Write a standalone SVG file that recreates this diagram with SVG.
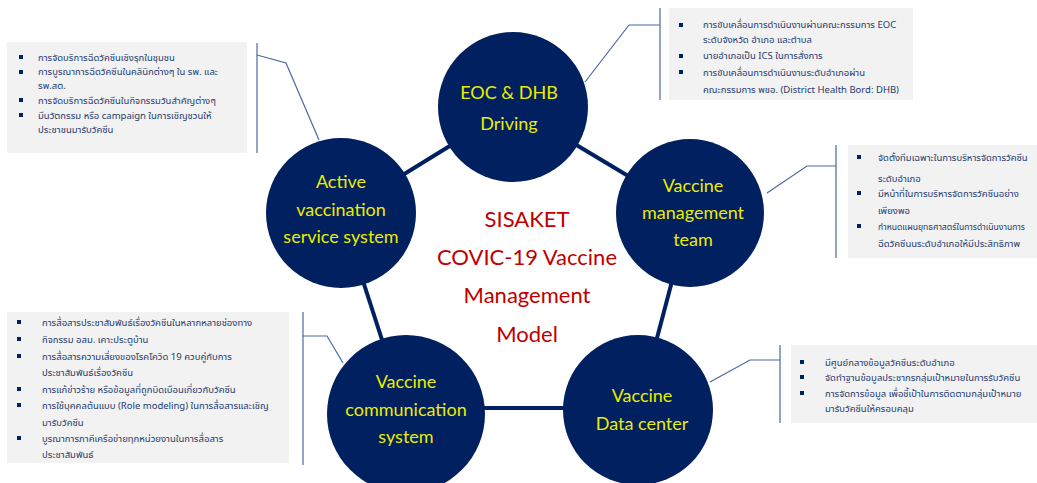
<svg xmlns="http://www.w3.org/2000/svg" width="1037" height="483" viewBox="0 0 1037 483">
  <style>
    .hub { fill: #002060; }
    .link { stroke: #002060; stroke-width: 4; fill: none; }
    .lead { stroke: #4a68a4; stroke-width: 1.2; fill: none; }
    .note { fill: #f2f2f2; }
    .label { font-family: Lato, "Noto Sans", sans-serif; font-size: 18px; fill: #ecec00; text-anchor: middle; }
    .title { font-family: Lato, "Noto Sans", sans-serif; font-size: 22px; fill: #c00000; text-anchor: middle; }
    .item { font-family: "Noto Sans Thai", "Noto Sans", "DejaVu Sans", sans-serif; font-size: 9.5px; fill: #1f3a6e; }
    .item.tight { font-size: 8.6px; }
    .dot { fill: #002060; }
  </style>
  <defs>
    <rect id="sq" class="dot" x="-2" y="-2" width="4" height="4"/>
  </defs>
  <rect width="1037" height="483" fill="#ffffff"/>

  <!-- ring of links between the five hubs -->
  <g id="connectors">
    <line class="link" x1="513" y1="107" x2="341" y2="213"/>
    <line class="link" x1="513" y1="107" x2="690" y2="213"/>
    <line class="link" x1="341" y1="213" x2="406" y2="414"/>
    <line class="link" x1="690" y1="213" x2="638" y2="410"/>
    <line class="link" x1="406" y1="408" x2="638" y2="408"/>
    <!-- leader lines to the note panels -->
    <polyline class="lead" points="585,82 629,25 660,25"/>
    <line class="lead" x1="660" y1="8" x2="660" y2="100"/>
    <polyline class="lead" points="319,140 286,63 257,55"/>
    <line class="lead" x1="257" y1="43" x2="257" y2="153"/>
    <polyline class="lead" points="767,193 807,166 836,166"/>
    <line class="lead" x1="836" y1="145" x2="836" y2="258"/>
    <polyline class="lead" points="343,363 327,336 303,336"/>
    <line class="lead" x1="303" y1="312" x2="303" y2="465"/>
    <polyline class="lead" points="710,382 750,360 780,360"/>
    <line class="lead" x1="780" y1="345" x2="780" y2="423"/>
  </g>

  <g id="title">
    <text class="title" x="527" y="227">SISAKET</text>
    <text class="title" x="527" y="265">COVIC-19 Vaccine</text>
    <text class="title" x="527" y="303">Management</text>
    <text class="title" x="527" y="342">Model</text>
  </g>

  <g id="eoc">
    <circle class="hub" cx="513" cy="107" r="75"/>
    <text class="label" x="509" y="99">EOC &amp; DHB</text>
    <text class="label" x="509" y="130">Driving</text>
  </g>

  <g id="active">
    <circle class="hub" cx="341" cy="213" r="75"/>
    <text class="label" x="341" y="188">Active</text>
    <text class="label" x="341" y="216">vaccination</text>
    <text class="label" x="341" y="243">service system</text>
  </g>

  <g id="management">
    <circle class="hub" cx="690" cy="213" r="74"/>
    <text class="label" x="693" y="192">Vaccine</text>
    <text class="label" x="693" y="219">management</text>
    <text class="label" x="693" y="246">team</text>
  </g>

  <g id="communication">
    <circle class="hub" cx="406" cy="414" r="79"/>
    <text class="label" x="406" y="388">Vaccine</text>
    <text class="label" x="406" y="416">communication</text>
    <text class="label" x="406" y="443">system</text>
  </g>

  <g id="datacenter">
    <circle class="hub" cx="638" cy="410" r="75"/>
    <text class="label" x="642" y="402">Vaccine</text>
    <text class="label" x="642" y="430">Data center</text>
  </g>

  <g id="note-eoc">
    <rect class="note" x="669" y="8" width="244" height="92"/>
    <use href="#sq" x="681" y="25"/>
    <use href="#sq" x="681" y="56"/>
    <use href="#sq" x="681" y="72"/>
    <text class="item" x="703" y="28">การขับเคลื่อนการดำเนินงานผ่านคณะกรรมการ  EOC</text>
    <text class="item" x="703" y="43">ระดับจังหวัด อำเภอ และตำบล</text>
    <text class="item" x="703" y="59">นายอำเภอเป็น ICS ในการสั่งการ</text>
    <text class="item" x="703" y="76">การขับเคลื่อนการดำเนินงานระดับอำเภอผ่าน</text>
    <text class="item" x="703" y="93">คณะกรรมการ พชอ. (District Health Bord: DHB)</text>
  </g>

  <g id="note-active">
    <rect class="note" x="7" y="42" width="240" height="111"/>
    <use href="#sq" x="21" y="57"/>
    <use href="#sq" x="21" y="72"/>
    <use href="#sq" x="21" y="100"/>
    <use href="#sq" x="21" y="115"/>
    <text class="item" x="38" y="61">การจัดบริการฉีดวัคซีนเชิงรุกในชุมชน</text>
    <text class="item" x="38" y="75">การบูรณาการฉีดวัคซีนในคลินิกต่างๆ  ใน  รพ.  และ</text>
    <text class="item" x="38" y="89">รพ.สต.</text>
    <text class="item" x="38" y="104">การจัดบริการฉีดวัคซีนในกิจกรรมวันสำคัญต่างๆ</text>
    <text class="item" x="38" y="119">มีนวัตกรรม หรือ campaign ในการเชิญชวนให้</text>
    <text class="item" x="38" y="133">ประชาชนมารับวัคซีน</text>
  </g>

  <g id="note-management">
    <rect class="note" x="848" y="145" width="189" height="113"/>
    <use href="#sq" x="859" y="157"/>
    <use href="#sq" x="859" y="193"/>
    <use href="#sq" x="859" y="226"/>
    <text class="item" x="878" y="161">จัดตั้งทีมเฉพาะในการบริหารจัดการวัคซีน</text>
    <text class="item" x="878" y="182">ระดับอำเภอ</text>
    <text class="item" x="878" y="197">มีหน้าที่ในการบริหารจัดการวัคซีนอย่าง</text>
    <text class="item" x="878" y="214">เพียงพอ</text>
    <text class="item tight" x="878" y="230">กำหนดแผนยุทธศาสตร์ในการดำเนินงานการ</text>
    <text class="item" x="878" y="247">ฉีดวัคซีนนระดับอำเภอให้มีประสิทธิภาพ</text>
  </g>

  <g id="note-communication">
    <rect class="note" x="7" y="312" width="282" height="151"/>
    <use href="#sq" x="19" y="322"/>
    <use href="#sq" x="19" y="339"/>
    <use href="#sq" x="19" y="356"/>
    <use href="#sq" x="19" y="389"/>
    <use href="#sq" x="19" y="405"/>
    <use href="#sq" x="19" y="438"/>
    <text class="item" x="42" y="326">การสื่อสารประชาสัมพันธ์เรื่องวัคซีนในหลากหลายช่องทาง</text>
    <text class="item" x="42" y="343">กิจกรรม  อสม. เคาะประตูบ้าน</text>
    <text class="item" x="42" y="360">การสื่อสารความเสี่ยงของโรคโควิด 19 ควบคู่กับการ</text>
    <text class="item" x="42" y="376">ประชาสัมพันธ์เรื่องวัคซีน</text>
    <text class="item" x="42" y="393">การแก้ข่าวร้าย  หรือข้อมูลที่ถูกบิดเบือนเกี่ยวกับวัคซีน</text>
    <text class="item" x="42" y="409">การใช้บุคคลต้นแบบ (Role modeling) ในการสื่อสารและเชิญ</text>
    <text class="item" x="42" y="426">มารับวัคซีน</text>
    <text class="item" x="42" y="442">บูรณาการภาคีเครือข่ายทุกหน่วยงานในการสื่อสาร</text>
    <text class="item" x="42" y="458">ประชาสัมพันธ์</text>
  </g>

  <g id="note-datacenter">
    <rect class="note" x="791" y="345" width="246" height="78"/>
    <use href="#sq" x="802" y="362"/>
    <use href="#sq" x="802" y="377"/>
    <use href="#sq" x="802" y="393"/>
    <text class="item" x="825" y="366">มีศูนย์กลางข้อมูลวัคซีนระดับอำเภอ</text>
    <text class="item" x="825" y="381">จัดทำฐานข้อมูลประชากรกลุ่มเป้าหมายในการรับวัคซีน</text>
    <text class="item" x="825" y="397">การจัดการข้อมูล  เพื่อชี้เป้าในการติดตามกลุ่มเป้าหมาย</text>
    <text class="item" x="825" y="412">มารับวัคซีนให้ครอบคลุม</text>
  </g>
</svg>
